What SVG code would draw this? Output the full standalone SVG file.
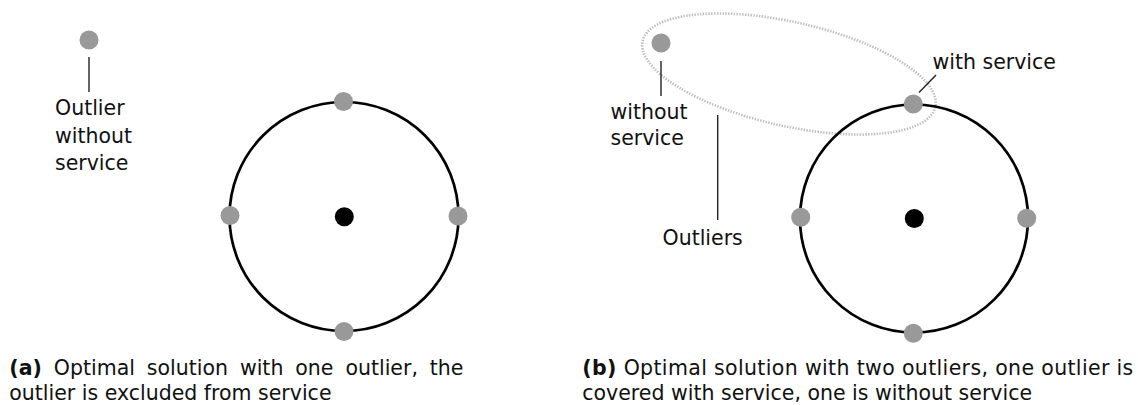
<svg xmlns="http://www.w3.org/2000/svg" width="1138" height="405" viewBox="0 0 1138 405">
  <style>
    text { font-family: "DejaVu Sans", "Liberation Sans", sans-serif; font-size: 20.5px; fill: #111; }
    .b { font-weight: bold; }
    .ring { fill: none; stroke: #000; stroke-width: 2.7; }
    .pt { fill: #999; }
    .ctr { fill: #000; }
    .lead { stroke: #222; stroke-width: 1.4; fill: none; }
    .hull { fill: none; stroke: #bdbdbd; stroke-width: 2.6; stroke-dasharray: 1.4 1.4; }
  </style>
  <rect width="1138" height="405" fill="#fff"/>

  <!-- Panel (a) -->
  <g id="a-ring"><circle class="ring" cx="344" cy="216.5" r="114.5"/></g>
  <g id="a-center"><circle class="ctr" cx="344.3" cy="216.7" r="9.5"/></g>
  <g id="a-top"><circle class="pt" cx="343.5" cy="101.5" r="9.5"/></g>
  <g id="a-left"><circle class="pt" cx="230" cy="215.5" r="9.5"/></g>
  <g id="a-right"><circle class="pt" cx="458" cy="216" r="9.5"/></g>
  <g id="a-bottom"><circle class="pt" cx="344" cy="331.5" r="9.5"/></g>
  <g id="a-outlier"><circle class="pt" cx="89" cy="40" r="9.5"/></g>
  <g id="a-outlier-label">
    <text x="55" y="115">Outlier</text>
    <text x="55" y="142.5">without</text>
    <text x="55" y="170">service</text>
  </g>

  <!-- Panel (b) -->
  <g id="b-hull"><ellipse class="hull" cx="789" cy="74" rx="150" ry="52" transform="rotate(12.7 789 74)"/></g>
  <g id="b-ring"><circle class="ring" cx="914" cy="218.5" r="114"/></g>
  <g id="b-center"><circle class="ctr" cx="914.3" cy="218.5" r="9.5"/></g>
  <g id="b-top"><circle class="pt" cx="913.3" cy="104" r="9.5"/></g>
  <g id="b-left"><circle class="pt" cx="800.7" cy="217.3" r="9.5"/></g>
  <g id="b-right"><circle class="pt" cx="1026.7" cy="218.3" r="9.5"/></g>
  <g id="b-bottom"><circle class="pt" cx="913.3" cy="333.3" r="9.5"/></g>
  <g id="b-outlier"><circle class="pt" cx="661" cy="43" r="9.5"/></g>
  <g id="b-without-label">
    <text x="610.5" y="119">without</text>
    <text x="610.5" y="145">service</text>
  </g>
  <g id="b-with-label"><text x="932.5" y="68.5">with service</text></g>
  <g id="b-outliers-label"><text x="662.5" y="244.5">Outliers</text></g>

  <!-- Leader lines -->
  <g id="connectors">
    <line class="lead" x1="89" y1="57" x2="89" y2="92"/>
    <line class="lead" x1="661" y1="61" x2="661" y2="96"/>
    <line class="lead" x1="717.7" y1="115" x2="717.7" y2="220"/>
    <line class="lead" x1="936" y1="75" x2="919" y2="92.5"/>
  </g>

  <!-- Captions -->
  <g id="caption-a">
    <text y="375"><tspan class="b" x="9.3">(a)</tspan><tspan x="53.8">Optimal</tspan><tspan x="146.8">solution</tspan><tspan x="239.9">with</tspan><tspan x="295.3">one</tspan><tspan x="345.4">outlier,</tspan><tspan x="429.8">the</tspan></text>
    <text x="9.3" y="400">outlier is excluded from service</text>
  </g>
  <g id="caption-b">
    <text x="582.3" y="375" textLength="551" lengthAdjust="spacing"><tspan class="b">(b)</tspan> Optimal solution with two outliers, one outlier is</text>
    <text x="582.3" y="400">covered with service, one is without service</text>
  </g>
</svg>
